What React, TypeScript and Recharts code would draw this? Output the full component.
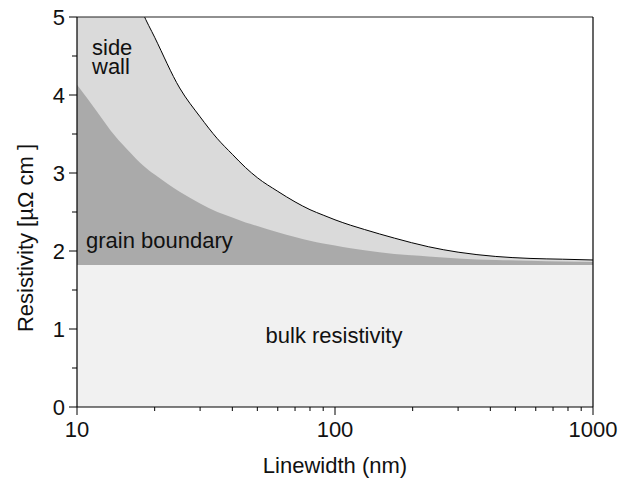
import React from 'react';
import { ComposedChart, Area, XAxis, YAxis, ReferenceLine } from 'recharts';

// linewidth (nm) sample points
const widths = [10, 12, 14, 16, 18, 20, 25, 30, 35, 40, 45, 50, 60, 70, 80, 90, 100, 115, 130, 170, 230, 300, 420, 570, 760, 1000];
// total resistivity (top black curve), µΩ cm
const totalRes = [8.0, 6.9, 6.1, 5.5, 5.05, 4.74, 4.09, 3.72, 3.44, 3.24, 3.07, 2.94, 2.765, 2.63, 2.53, 2.46, 2.4, 2.33, 2.276, 2.165, 2.055, 1.985, 1.93, 1.905, 1.895, 1.885];
// bulk + grain boundary contribution
const grainRes = [4.13, 3.78, 3.48, 3.27, 3.1, 2.98, 2.76, 2.61, 2.5, 2.43, 2.365, 2.32, 2.24, 2.18, 2.13, 2.095, 2.07, 2.035, 2.01, 1.96, 1.93, 1.905, 1.885, 1.875, 1.865, 1.86];
// bulk resistivity
const bulkRes = widths.map(() => 1.82);

const xTicks = [10, 20, 30, 40, 50, 60, 70, 80, 90, 100, 200, 300, 400, 500, 600, 700, 800, 900, 1000];
const xMajor = [10, 100, 1000];
const yTicks = [0, 0.5, 1, 1.5, 2, 2.5, 3, 3.5, 4, 4.5, 5];

const chartData = widths.map((w, i) => ({
    w,
    total: totalRes[i],
    grain: grainRes[i],
    bulk: bulkRes[i],
}));

const FONT = '"Liberation Sans", Arial, sans-serif';
const TEXT = '#111';

const XTick = (props: any) => {
    const { x, y, payload } = props;
    const major = xMajor.includes(payload.value);
    return (
        <g>
            <line x1={x} y1={y} x2={x} y2={y + (major ? 8 : 4)} stroke="#000" strokeWidth={1} />
            {major && (
                <text x={x} y={y + 30} textAnchor="middle" fontSize={22} fontFamily={FONT} fill={TEXT}>
                    {payload.value}
                </text>
            )}
        </g>
    );
};

const YTick = (props: any) => {
    const { x, y, payload } = props;
    const major = Number.isInteger(payload.value);
    return (
        <g>
            <line x1={x - (major ? 8 : 5)} y1={y} x2={x} y2={y} stroke="#000" strokeWidth={1} />
            {major && (
                <text x={x - 12} y={y + 7.5} textAnchor="end" fontSize={22} fontFamily={FONT} fill={TEXT}>
                    {payload.value}
                </text>
            )}
        </g>
    );
};

// region names drawn on top of the areas
const RegionLabels = () => (
    <g fontSize={22} fontFamily={FONT} fill={TEXT}>
        <text x={84} y={47}>
            <tspan x={84} dy={0}>side</tspan>
            <tspan x={84} dy={19}>wall</tspan>
        </text>
        <text x={78} y={240}>grain boundary</text>
        <text x={326} y={335} textAnchor="middle">bulk resistivity</text>
    </g>
);

const App: React.FC = () => {
    return (
        <ComposedChart
            width={625}
            height={470}
            data={chartData}
            margin={{ top: 9, right: 40, bottom: 0, left: 0 }}
        >
            <XAxis
                dataKey="w"
                type="number"
                scale="log"
                domain={[10, 1000]}
                ticks={xTicks}
                interval={0}
                height={71}
                tickSize={0}
                tickMargin={0}
                tickLine={false}
                tick={<XTick />}
                axisLine={{ stroke: '#000', strokeWidth: 1.2 }}
                label={{
                    content: (p: any) => {
                        const vb = p.viewBox;
                        return (
                            <text x={vb.x + vb.width / 2} y={vb.y + 66} textAnchor="middle" fontSize={22} fontFamily={FONT} fill={TEXT}>
                                Linewidth (nm)
                            </text>
                        );
                    },
                }}
            />
            <YAxis
                type="number"
                domain={[0, 5]}
                ticks={yTicks}
                interval={0}
                allowDataOverflow
                width={69}
                tickSize={0}
                tickMargin={0}
                tickLine={false}
                tick={<YTick />}
                axisLine={{ stroke: '#000', strokeWidth: 1.2 }}
                label={{
                    content: () => (
                        <text x={25} y={230} textAnchor="middle" transform="rotate(-90, 25, 230)" fontSize={22} fontFamily={FONT} fill={TEXT}>
                            Resistivity [µΩ cm ]
                        </text>
                    ),
                }}
            />
            <Area dataKey="total" type="monotone" fill="#dadada" fillOpacity={1} stroke="#000" strokeWidth={1} isAnimationActive={false} dot={false} activeDot={false} />
            <Area dataKey="grain" type="monotone" fill="#aaaaaa" fillOpacity={1} stroke="none" isAnimationActive={false} dot={false} activeDot={false} />
            <Area dataKey="bulk" type="linear" fill="#f1f1f1" fillOpacity={1} stroke="none" isAnimationActive={false} dot={false} activeDot={false} />
            <ReferenceLine y={5} stroke="#222" strokeWidth={1.2} label={{ content: () => <RegionLabels /> }} />
            <ReferenceLine x={1000} stroke="#000" strokeWidth={1.2} />
        </ComposedChart>
    );
};

export default App;
